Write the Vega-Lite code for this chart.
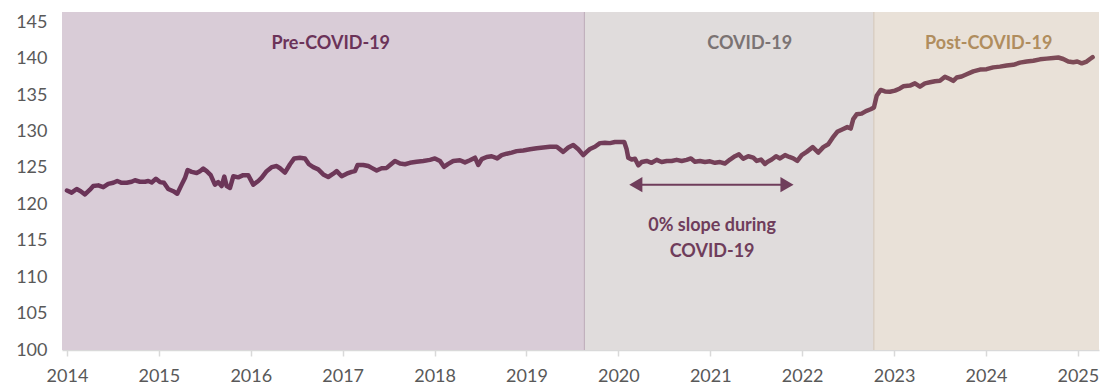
{
  "$schema": "https://vega.github.io/schema/vega-lite/v6.json",
  "width": 1037,
  "height": 338,
  "autosize": {"type": "none"},
  "padding": {"left": 62, "top": 12, "right": 3, "bottom": 36},
  "background": "white",
  "config": {
    "view": {"stroke": null},
    "font": "Lato",
    "axis": {"title": null, "grid": false, "labelColor": "#595959", "labelFont": "Lato", "labelFontSize": 18, "labelOverlap": false, "labelSeparation": 0},
    "axisX": {"domainColor": "#D9D9D9", "domainWidth": 1.5, "tickColor": "#D9D9D9", "tickWidth": 1.5, "tickSize": 6, "labelPadding": 11, "labelFlush": false},
    "axisY": {"domain": false, "ticks": false, "labelPadding": 15, "labelOverlap": false}
  },
  "datasets": {
    "periods": [
      {"period": "Pre-COVID-19", "start": 2013.946, "end": 2019.63, "labelx": 2016.87},
      {"period": "COVID-19", "start": 2019.63, "end": 2022.78, "labelx": 2021.43},
      {"period": "Post-COVID-19", "start": 2022.78, "end": 2025.23, "labelx": 2024.03}
    ],
    "series": [
      {"year": 2014.0, "value": 121.9}, {"year": 2014.051, "value": 121.6}, {"year": 2014.106, "value": 122.1},
      {"year": 2014.149, "value": 121.8}, {"year": 2014.196, "value": 121.35}, {"year": 2014.25, "value": 122.0},
      {"year": 2014.286, "value": 122.5}, {"year": 2014.341, "value": 122.6}, {"year": 2014.395, "value": 122.35},
      {"year": 2014.449, "value": 122.8}, {"year": 2014.504, "value": 122.95}, {"year": 2014.547, "value": 123.2},
      {"year": 2014.595, "value": 122.95}, {"year": 2014.65, "value": 122.95}, {"year": 2014.704, "value": 123.1},
      {"year": 2014.74, "value": 123.3}, {"year": 2014.794, "value": 123.1}, {"year": 2014.849, "value": 123.1},
      {"year": 2014.885, "value": 123.2}, {"year": 2014.922, "value": 123.0}, {"year": 2014.968, "value": 123.5},
      {"year": 2015.012, "value": 123.05}, {"year": 2015.055, "value": 122.95}, {"year": 2015.102, "value": 122.1},
      {"year": 2015.157, "value": 121.8}, {"year": 2015.2, "value": 121.45}, {"year": 2015.248, "value": 122.7},
      {"year": 2015.284, "value": 123.6}, {"year": 2015.313, "value": 124.7}, {"year": 2015.357, "value": 124.45},
      {"year": 2015.411, "value": 124.3}, {"year": 2015.447, "value": 124.55}, {"year": 2015.483, "value": 124.9},
      {"year": 2015.52, "value": 124.55}, {"year": 2015.564, "value": 124.0}, {"year": 2015.61, "value": 122.7},
      {"year": 2015.646, "value": 123.05}, {"year": 2015.683, "value": 122.5}, {"year": 2015.712, "value": 123.8},
      {"year": 2015.738, "value": 122.5}, {"year": 2015.774, "value": 122.25}, {"year": 2015.81, "value": 123.85},
      {"year": 2015.864, "value": 123.7}, {"year": 2015.918, "value": 124.0}, {"year": 2015.973, "value": 124.0},
      {"year": 2016.027, "value": 122.7}, {"year": 2016.082, "value": 123.2}, {"year": 2016.119, "value": 123.65},
      {"year": 2016.173, "value": 124.55}, {"year": 2016.227, "value": 125.1}, {"year": 2016.282, "value": 125.25},
      {"year": 2016.318, "value": 124.95}, {"year": 2016.372, "value": 124.35}, {"year": 2016.427, "value": 125.5},
      {"year": 2016.473, "value": 126.3}, {"year": 2016.535, "value": 126.4}, {"year": 2016.59, "value": 126.3},
      {"year": 2016.633, "value": 125.5}, {"year": 2016.68, "value": 125.1}, {"year": 2016.734, "value": 124.8},
      {"year": 2016.789, "value": 124.1}, {"year": 2016.843, "value": 123.75}, {"year": 2016.898, "value": 124.2},
      {"year": 2016.935, "value": 124.55}, {"year": 2016.989, "value": 123.85}, {"year": 2017.044, "value": 124.2},
      {"year": 2017.098, "value": 124.45}, {"year": 2017.134, "value": 124.55}, {"year": 2017.163, "value": 125.4},
      {"year": 2017.224, "value": 125.4}, {"year": 2017.279, "value": 125.25}, {"year": 2017.316, "value": 125.0},
      {"year": 2017.37, "value": 124.65}, {"year": 2017.424, "value": 124.95}, {"year": 2017.479, "value": 125.0},
      {"year": 2017.526, "value": 125.5}, {"year": 2017.569, "value": 125.95}, {"year": 2017.624, "value": 125.6},
      {"year": 2017.678, "value": 125.5}, {"year": 2017.732, "value": 125.7}, {"year": 2017.805, "value": 125.85},
      {"year": 2017.877, "value": 125.95}, {"year": 2017.95, "value": 126.1}, {"year": 2018.004, "value": 126.3},
      {"year": 2018.059, "value": 125.95}, {"year": 2018.102, "value": 125.15}, {"year": 2018.149, "value": 125.55},
      {"year": 2018.203, "value": 125.95}, {"year": 2018.276, "value": 126.05}, {"year": 2018.331, "value": 125.75},
      {"year": 2018.385, "value": 126.05}, {"year": 2018.44, "value": 126.4}, {"year": 2018.476, "value": 125.4},
      {"year": 2018.513, "value": 126.2}, {"year": 2018.567, "value": 126.5}, {"year": 2018.621, "value": 126.6},
      {"year": 2018.682, "value": 126.3}, {"year": 2018.73, "value": 126.75}, {"year": 2018.785, "value": 126.95},
      {"year": 2018.839, "value": 127.1}, {"year": 2018.893, "value": 127.3}, {"year": 2018.965, "value": 127.4},
      {"year": 2019.038, "value": 127.55}, {"year": 2019.111, "value": 127.7}, {"year": 2019.183, "value": 127.8},
      {"year": 2019.256, "value": 127.9}, {"year": 2019.329, "value": 127.9}, {"year": 2019.4, "value": 127.2},
      {"year": 2019.455, "value": 127.8}, {"year": 2019.509, "value": 128.15}, {"year": 2019.564, "value": 127.55},
      {"year": 2019.618, "value": 126.75}, {"year": 2019.655, "value": 127.2}, {"year": 2019.691, "value": 127.6},
      {"year": 2019.745, "value": 127.9}, {"year": 2019.8, "value": 128.4}, {"year": 2019.854, "value": 128.45},
      {"year": 2019.909, "value": 128.4}, {"year": 2019.963, "value": 128.55}, {"year": 2020.017, "value": 128.55},
      {"year": 2020.064, "value": 128.55}, {"year": 2020.09, "value": 127.55}, {"year": 2020.108, "value": 126.4},
      {"year": 2020.145, "value": 126.15}, {"year": 2020.181, "value": 126.25}, {"year": 2020.217, "value": 125.35},
      {"year": 2020.253, "value": 125.8}, {"year": 2020.308, "value": 125.95}, {"year": 2020.362, "value": 125.7},
      {"year": 2020.417, "value": 126.1}, {"year": 2020.471, "value": 125.8}, {"year": 2020.526, "value": 125.95},
      {"year": 2020.58, "value": 125.95}, {"year": 2020.634, "value": 126.1}, {"year": 2020.689, "value": 125.95},
      {"year": 2020.743, "value": 126.1}, {"year": 2020.79, "value": 126.3}, {"year": 2020.833, "value": 125.85},
      {"year": 2020.888, "value": 125.95}, {"year": 2020.942, "value": 125.8}, {"year": 2020.997, "value": 125.9},
      {"year": 2021.051, "value": 125.7}, {"year": 2021.106, "value": 125.8}, {"year": 2021.16, "value": 125.6},
      {"year": 2021.215, "value": 126.15}, {"year": 2021.269, "value": 126.6}, {"year": 2021.312, "value": 126.85},
      {"year": 2021.359, "value": 126.25}, {"year": 2021.413, "value": 126.6}, {"year": 2021.468, "value": 126.4},
      {"year": 2021.505, "value": 125.95}, {"year": 2021.552, "value": 126.15}, {"year": 2021.595, "value": 125.55},
      {"year": 2021.625, "value": 125.85}, {"year": 2021.669, "value": 126.15}, {"year": 2021.716, "value": 126.6},
      {"year": 2021.759, "value": 126.3}, {"year": 2021.814, "value": 126.75}, {"year": 2021.86, "value": 126.5},
      {"year": 2021.903, "value": 126.3}, {"year": 2021.947, "value": 125.95}, {"year": 2021.995, "value": 126.75},
      {"year": 2022.049, "value": 127.2}, {"year": 2022.115, "value": 127.85}, {"year": 2022.176, "value": 127.1},
      {"year": 2022.23, "value": 127.85}, {"year": 2022.284, "value": 128.25}, {"year": 2022.332, "value": 129.15},
      {"year": 2022.382, "value": 129.95}, {"year": 2022.441, "value": 130.3}, {"year": 2022.491, "value": 130.6},
      {"year": 2022.528, "value": 130.4}, {"year": 2022.556, "value": 131.7}, {"year": 2022.593, "value": 132.35},
      {"year": 2022.647, "value": 132.45}, {"year": 2022.694, "value": 132.8}, {"year": 2022.745, "value": 133.05},
      {"year": 2022.781, "value": 133.3}, {"year": 2022.811, "value": 134.9}, {"year": 2022.854, "value": 135.7},
      {"year": 2022.901, "value": 135.5}, {"year": 2022.955, "value": 135.45}, {"year": 2023.01, "value": 135.6},
      {"year": 2023.064, "value": 135.9}, {"year": 2023.1, "value": 136.2}, {"year": 2023.173, "value": 136.3},
      {"year": 2023.227, "value": 136.6}, {"year": 2023.282, "value": 136.15}, {"year": 2023.336, "value": 136.6},
      {"year": 2023.391, "value": 136.75}, {"year": 2023.445, "value": 136.9}, {"year": 2023.499, "value": 136.95},
      {"year": 2023.554, "value": 137.5}, {"year": 2023.608, "value": 137.2}, {"year": 2023.644, "value": 136.95},
      {"year": 2023.681, "value": 137.4}, {"year": 2023.735, "value": 137.55}, {"year": 2023.79, "value": 137.85},
      {"year": 2023.862, "value": 138.25}, {"year": 2023.935, "value": 138.5}, {"year": 2024.007, "value": 138.55},
      {"year": 2024.079, "value": 138.8}, {"year": 2024.152, "value": 138.9}, {"year": 2024.225, "value": 139.05},
      {"year": 2024.297, "value": 139.15}, {"year": 2024.37, "value": 139.45}, {"year": 2024.443, "value": 139.6},
      {"year": 2024.515, "value": 139.7}, {"year": 2024.588, "value": 139.9}, {"year": 2024.66, "value": 140.0},
      {"year": 2024.732, "value": 140.1}, {"year": 2024.787, "value": 140.15}, {"year": 2024.841, "value": 139.95},
      {"year": 2024.896, "value": 139.6}, {"year": 2024.95, "value": 139.5}, {"year": 2024.994, "value": 139.6},
      {"year": 2025.042, "value": 139.35}, {"year": 2025.096, "value": 139.6}, {"year": 2025.132, "value": 139.95},
      {"year": 2025.161, "value": 140.2}
    ]
  },
  "layer": [
    {
      "data": {"name": "series"},
      "mark": {"type": "line", "opacity": 0},
      "encoding": {
        "x": {"field": "year", "type": "quantitative", "scale": {"domain": [2013.946, 2025.23], "nice": false, "zero": false},
          "axis": {"values": [2014, 2015, 2016, 2017, 2018, 2019, 2020, 2021, 2022, 2023, 2024, 2025], "format": "d", "labelOverlap": false}},
        "y": {"field": "value", "type": "quantitative", "scale": {"domain": [100, 146.4], "nice": false, "zero": false},
          "axis": {"values": [100, 105, 110, 115, 120, 125, 130, 135, 140, 145], "tickCount": 10, "labelOverlap": false, "format": "d"}}
      }
    },
    {
      "data": {"name": "periods"},
      "mark": {"type": "rect"},
      "encoding": {
        "x": {"field": "start", "type": "quantitative"},
        "x2": {"field": "end"},
        "y": {"datum": 146.4, "type": "quantitative"},
        "y2": {"datum": 100},
        "fill": {"field": "period", "type": "nominal", "legend": null,
          "scale": {"domain": ["Pre-COVID-19", "COVID-19", "Post-COVID-19"], "range": ["#D9CCD7", "#E0DCDC", "#E9E1D8"]}}
      }
    },
    {
      "data": {"name": "periods"},
      "transform": [{"filter": "datum.start > 2014"}],
      "mark": {"type": "rule", "strokeWidth": 1},
      "encoding": {
        "x": {"field": "start", "type": "quantitative"},
        "y": {"datum": 146.4, "type": "quantitative"},
        "y2": {"datum": 100},
        "stroke": {"field": "period", "type": "nominal", "legend": null,
          "scale": {"domain": ["COVID-19", "Post-COVID-19"], "range": ["#BBAAB8", "#D3C6B8"]}}
      }
    },
    {
      "data": {"name": "series"},
      "mark": {"type": "line", "strokeWidth": 4.5, "strokeJoin": "round", "strokeCap": "round",
        "color": {"gradient": "linear", "x1": 0, "y1": 0, "x2": 1, "y2": 0,
          "stops": [{"offset": 0, "color": "#6A3358"}, {"offset": 0.5, "color": "#713C59"}, {"offset": 1, "color": "#7E4C57"}]}},
      "encoding": {
        "x": {"field": "year", "type": "quantitative"},
        "y": {"field": "value", "type": "quantitative"}
      }
    },
    {
      "data": {"name": "periods"},
      "mark": {"type": "text", "font": "Lato", "fontWeight": "bold", "fontSize": 18, "align": "center", "baseline": "middle"},
      "encoding": {
        "x": {"field": "labelx", "type": "quantitative"},
        "y": {"datum": 142.0, "type": "quantitative"},
        "text": {"field": "period"},
        "color": {"field": "period", "type": "nominal", "legend": null,
          "scale": {"domain": ["Pre-COVID-19", "COVID-19", "Post-COVID-19"], "range": ["#6B3359", "#7B7373", "#B08D5E"]}}
      }
    },
    {
      "data": {"values": [{}]},
      "mark": {"type": "rule", "strokeWidth": 2, "color": "#6F3D5B"},
      "encoding": {
        "x": {"datum": 2020.2, "type": "quantitative"},
        "x2": {"datum": 2021.83},
        "y": {"datum": 122.7, "type": "quantitative"}
      }
    },
    {
      "data": {"values": [{}]},
      "mark": {"type": "point", "shape": "triangle-left", "filled": true, "size": 230, "color": "#6F3D5B", "opacity": 1},
      "encoding": {
        "x": {"datum": 2020.19, "type": "quantitative"},
        "y": {"datum": 122.7, "type": "quantitative"}
      }
    },
    {
      "data": {"values": [{}]},
      "mark": {"type": "point", "shape": "triangle-right", "filled": true, "size": 230, "color": "#6F3D5B", "opacity": 1},
      "encoding": {
        "x": {"datum": 2021.835, "type": "quantitative"},
        "y": {"datum": 122.7, "type": "quantitative"}
      }
    },
    {
      "data": {"values": [{}]},
      "mark": {"type": "text", "text": ["0% slope during", "COVID-19"], "font": "Lato", "fontWeight": "bold", "fontSize": 18,
        "lineHeight": 26, "align": "center", "baseline": "middle", "color": "#6F3D5B"},
      "encoding": {
        "x": {"datum": 2021.02, "type": "quantitative"},
        "y": {"datum": 117.0, "type": "quantitative"}
      }
    }
  ]
}
